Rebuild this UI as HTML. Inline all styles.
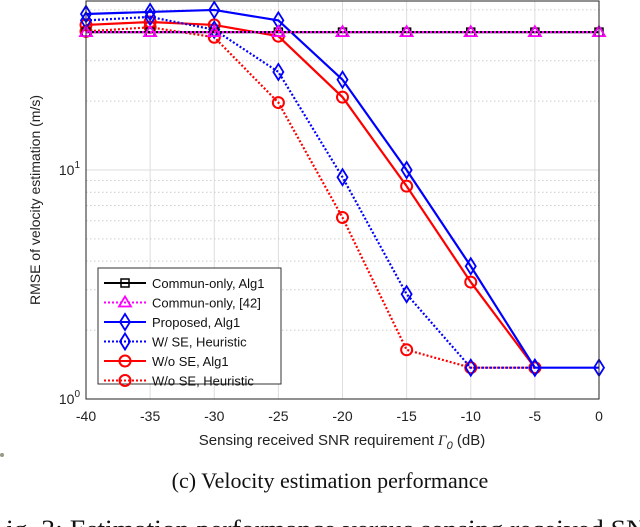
<!DOCTYPE html>
<html><head><meta charset="utf-8"><style>
body{margin:0;background:#fff;width:640px;height:527px;overflow:hidden;position:relative}
svg{position:absolute;left:0;top:0}
</style></head><body>
<svg width="640" height="527" font-family="Liberation Sans, sans-serif">
<g id="grid"></g>
<g id="series"></g>
<rect x="86" y="1" width="513" height="398" fill="none" stroke="#222" stroke-width="1"/>
<g id="ticks" font-size="14" fill="#222"></g>
<text x="40" y="200" font-size="14" fill="#222" text-anchor="middle" transform="rotate(-90 40 200)">RMSE of velocity estimation (m/s)</text>
<text x="342" y="445" font-size="15" fill="#222" text-anchor="middle">Sensing received SNR requirement <tspan font-family="Liberation Serif, serif" font-style="italic">Γ</tspan><tspan font-size="11" dy="4" font-style="italic">0</tspan><tspan dy="-4"> (dB)</tspan></text>
<text x="330" y="488" font-size="22" font-family="Liberation Serif, serif" fill="#111" text-anchor="middle">(c) Velocity estimation performance</text>
<text x="6" y="538" font-size="26" font-family="Liberation Serif, serif" fill="#111" textLength="640" lengthAdjust="spacingAndGlyphs">ig. 3: Estimation performance versus sensing received SN</text>
<circle cx="2" cy="455" r="2" fill="#998"/>
<g id="legend"></g>
</svg>
<script>
const categories=[-40,-35,-30,-25,-20,-15,-10,-5,0];
const communAlg1=[40,40,40,40,40,40,40,40,40];
const commun42=[40,40,40,40,40,40,40,40,40];
const proposedAlg1=[48,49,50,45,24.8,10,3.8,1.37,1.37];
const wSEHeuristic=[45,46.6,41,26.8,9.3,2.87,1.37,1.37,null];
const woSEAlg1=[43,44.3,43,38.4,20.8,8.5,3.24,1.37,null];
const woSEHeuristic=[40.3,42,38,19.7,6.2,1.64,1.37,1.37,null];
const xTicks=["-40","-35","-30","-25","-20","-15","-10","-5","0"];
const NS="http://www.w3.org/2000/svg";
const X=v=>86+(v+40)/40*513;
const Y=v=>399-229*Math.log10(v);
function mk(t,a,p){const e=document.createElementNS(NS,t);for(const k in a)e.setAttribute(k,a[k]);p.appendChild(e);return e;}
const grid=document.getElementById('grid'),ticks=document.getElementById('ticks');
categories.forEach((c,i)=>{
 const l=mk('line',{x1:X(c),x2:X(c),y1:1,y2:399,stroke:'#ddd','stroke-width':1},grid);
 
 
 const t=mk('text',{x:X(c),y:421,'text-anchor':'middle'},ticks);t.textContent=xTicks[i];
 
 
});
[2,3,4,5,6,7,8,9,10,20,30,40,50].forEach(v=>{
 const major=v===10;
 const l=mk('line',{x1:86,x2:599,y1:Y(v),y2:Y(v),stroke:major?'#ddd':'#ccc','stroke-width':1,'stroke-dasharray':major?'':'1.5,2.5'},grid);
 
 
});
[[1,'0'],[10,'1']].forEach(([v,e])=>{
 const t=mk('text',{x:80,y:Y(v)+5,'text-anchor':'end'},ticks);
 t.innerHTML='10<tspan font-size="10" dy="-7">'+e+'</tspan>';
 
 
});
function marker(g,type,x,y,col){
 let e;
 if(type==='s')e=mk('rect',{x:x-4,y:y-4,width:8,height:8,fill:'none',stroke:col,'stroke-width':1.5},g);
 else if(type==='t')e=mk('polygon',{points:`${x},${y-6} ${x-6},${y+4} ${x+6},${y+4}`,fill:'none',stroke:col,'stroke-width':1.8},g);
 else if(type==='d')e=mk('polygon',{points:`${x},${y-8} ${x-5},${y} ${x},${y+8} ${x+5},${y}`,fill:'none',stroke:col,'stroke-width':1.8},g);
 else e=mk('circle',{cx:x,cy:y,r:5.5,fill:'none',stroke:col,'stroke-width':2},g);
 return e;
}
const S=[
 {n:'Commun-only, Alg1',d:communAlg1,c:'#000',dash:'',m:'s',id:'commun-only-alg1'},
 {n:'Commun-only, [42]',d:commun42,c:'#f0f',dash:'2,2',m:'t',id:'commun-only-42'},
 {n:'Proposed, Alg1',d:proposedAlg1,c:'#00f',dash:'',m:'d',id:'proposed-alg1'},
 {n:'W/ SE, Heuristic',d:wSEHeuristic,c:'#00f',dash:'2,2',m:'d',id:'w-se-heuristic'},
 {n:'W/o SE, Alg1',d:woSEAlg1,c:'#f00',dash:'',m:'o',id:'wo-se-alg1'},
 {n:'W/o SE, Heuristic',d:woSEHeuristic,c:'#f00',dash:'2,2',m:'o',id:'wo-se-heuristic'}
];
const sg=document.getElementById('series');
const order=[4,5,3,2,0,1];
order.forEach(k=>{
 const s=S[k];
 const g=mk('g',{},sg);
 
 
 const pts=[];s.d.forEach((v,i)=>{if(v!=null)pts.push([X(categories[i]),Y(v)]);});
 const pl=mk('polyline',{points:pts.map(p=>p.join(',')).join(' '),fill:'none',stroke:s.c,'stroke-width':2.2,'stroke-dasharray':s.dash},g);
 
 
 pts.forEach(p=>{const m=marker(g,s.m,p[0],p[1],s.c);
  
  });
});
const lg=document.getElementById('legend');
const box=mk('rect',{x:98,y:268,width:183,height:116,fill:'#fff',stroke:'#333','stroke-width':1},lg);


S.forEach((s,i)=>{
 const y=283+i*19.5;
 const g=mk('g',{},lg);
 
 
 mk('line',{x1:104,x2:146,y1:y,y2:y,stroke:s.c,'stroke-width':2,'stroke-dasharray':s.dash},g);
 marker(g,s.m,125,y,s.c);
 const t=mk('text',{x:152,y:y+5,'font-size':13,fill:'#111'},g);t.textContent=s.n;
});
</script>
</body></html>
